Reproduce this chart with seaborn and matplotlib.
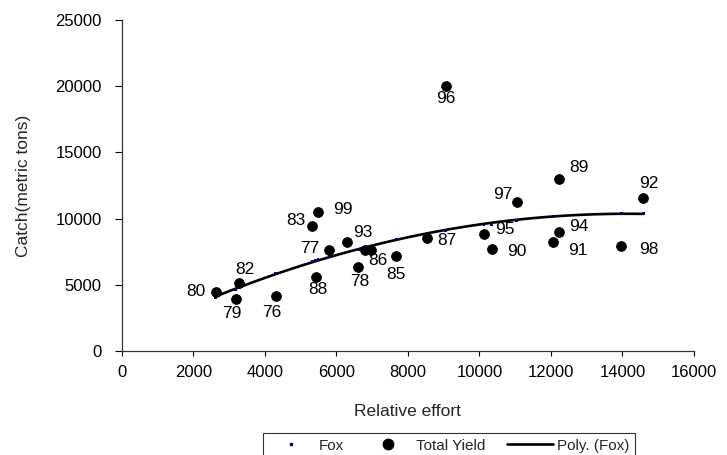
import matplotlib
matplotlib.use("Agg")
import matplotlib.pyplot as plt
import seaborn as sns
import pandas as pd
from matplotlib.lines import Line2D

# ---- data ----
years = ["76", "77", "78", "79", "80", "82", "83", "", "85", "86", "87", "88",
         "89", "90", "91", "92", "93", "94", "95", "96", "97", "98", "99"]
effort = [4300, 5800, 6610, 3190, 2630, 3280, 5330, 6790, 7680, 6960, 8540, 5420,
          12230, 10340, 12060, 14580, 6300, 12230, 10130, 9060, 11040, 13970, 5490]
total_yield = [4160, 7600, 6330, 3910, 4480, 5140, 9450, 7660, 7150, 7660, 8520, 5610,
               13000, 7710, 8250, 11520, 8210, 8980, 8870, 20000, 11290, 7960, 10490]
fox = [5850, 7150, 7680, 4650, 4050, 4750, 6800, 7800, 8400, 7900, 8900, 6860,
       10200, 9580, 10150, 10400, 7480, 10200, 9520, 9130, 9880, 10400, 6920]

x_ticks = [0, 2000, 4000, 6000, 8000, 10000, 12000, 14000, 16000]
y_ticks = [0, 5000, 10000, 15000, 20000, 25000]

# label offsets in points (style only)
label_offsets = {
    "76": (-3, -12), "77": (-14, 1), "78": (1, -10), "79": (-3, -10),
    "80": (-14, 0), "82": (4, 10), "83": (-12, 4), "85": (0, -13),
    "86": (5, -8), "87": (14, -2), "88": (2, -9), "89": (14, 8),
    "90": (18, -2), "91": (18, -6), "92": (4, 11), "93": (11, 7),
    "94": (14, 4), "95": (15, 3), "96": (0, -9), "97": (-10, 5),
    "98": (20, -3), "99": (18, 2),
}

df = pd.DataFrame({"year": years, "effort": effort,
                   "yield": total_yield, "fox": fox})

FONT = "Liberation Sans"
sns.set_style("ticks")
plt.rcParams["font.family"] = [FONT, "DejaVu Sans"]

fig = plt.figure(figsize=(7.27, 4.55), dpi=100)
ax = fig.add_axes([0.1674, 0.2286, 0.7872, 0.7274])

sns.regplot(data=df, x="effort", y="fox", order=2, ci=None, scatter=False,
            ax=ax, line_kws=dict(color="black", lw=1.9))
sns.scatterplot(data=df, x="effort", y="fox", ax=ax, marker="s", s=4,
                color="#000080", edgecolor="none", zorder=4)
sns.scatterplot(data=df, x="effort", y="yield", ax=ax, marker="o", s=50,
                color="black", edgecolor="black", zorder=5)

for _, r in df.iterrows():
    if not r["year"]:
        continue
    dx, dy = label_offsets[r["year"]]
    ax.annotate(r["year"], (r["effort"], r["yield"]), xytext=(dx, dy),
                textcoords="offset points", ha="center", va="center",
                fontsize=12.5, color="black")

ax.set_xlim(0, 16000)
ax.set_ylim(0, 25000)
ax.set_xticks(x_ticks)
ax.set_yticks(y_ticks)
ax.tick_params(axis="both", labelsize=12, direction="out",
               width=0.8, colors="black")
ax.tick_params(axis="y", length=5, pad=9.5)
ax.tick_params(axis="x", length=3.6, pad=6.5)
ax.set_xlabel("Relative effort", fontsize=12.5, labelpad=17)
ax.set_ylabel("Catch(metric tons)", fontsize=12.5)
ax.yaxis.set_label_coords(-0.159, 0.5)
sns.despine(ax=ax)
for s in ["left", "bottom"]:
    ax.spines[s].set_color("#333333")
    ax.spines[s].set_linewidth(0.9)

handles = [
    Line2D([], [], marker="s", color="#000080", ls="none", markersize=2),
    Line2D([], [], marker="o", color="black", ls="none", markersize=7.5),
    Line2D([], [], color="black", lw=1.9),
]
leg = fig.legend(handles, ["Fox", "Total Yield", "Poly. (Fox)"], ncol=3,
                 loc="upper left", bbox_to_anchor=(0.362, 0.048),
                 borderaxespad=0, frameon=True, fancybox=False,
                 edgecolor="black", fontsize=11, handlelength=3.0,
                 handletextpad=0.3, columnspacing=1.4, borderpad=0.35)
leg.get_frame().set_linewidth(0.8)

fig.savefig("out.png", dpi=100)
